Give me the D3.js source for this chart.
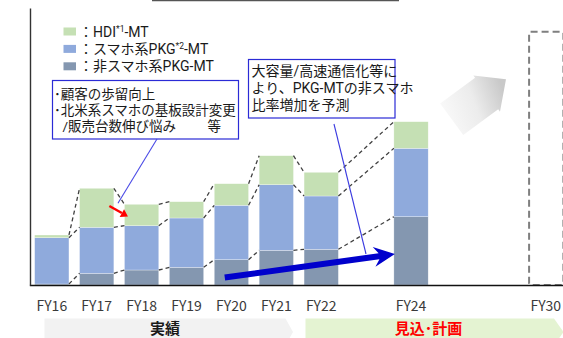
<!DOCTYPE html>
<html>
<head>
<meta charset="utf-8">
<script src="https://cdn.jsdelivr.net/npm/d3@7"></script>
<style>
  html, body { margin: 0; padding: 0; background: #fff; }
  svg { display: block; font-family: "Noto Sans CJK JP", "Noto Sans", sans-serif; }
  .note { font-family: Roboto, "Noto Sans CJK JP", sans-serif; }
</style>
</head>
<body>
<svg id="chart" width="563" height="338"></svg>
<script>
// ---- data -------------------------------------------------------------
const years = ["FY16", "FY17", "FY18", "FY19", "FY20", "FY21", "FY22", "FY24"];
const nonSmartphonePkg = [1.0, 11.7, 15.0, 17.7, 25.3, 34.7, 35.7, 68.3];
const smartphonePkg    = [46.3, 46.0, 44.3, 49.3, 54.4, 65.6, 53.3, 68.4];
const hdi              = [2.7, 39.0, 21.4, 16.3, 21.6, 29.0, 23.7, 26.6];
const targetYear = "FY30";
const targetTotal = 253.3;

// compressed fiscal-year axis: unnamed slots stand for skipped years
const axisSlots  = ["FY16", "FY17", "FY18", "FY19", "FY20", "FY21", "FY22", "gapA", "FY24", "gapB", "gapC", "FY30"];
const tickLabels = ["FY16", "FY17", "FY18", "FY19", "FY20", "FY21", "FY22", "FY24", "FY30"];

const seriesKeys   = ["nonSmartphonePkg", "smartphonePkg", "hdi"];
const legendLabels = [["：HDI", "*1", "-MT"], ["：スマホ系PKG", "*2", "-MT"], ["：非スマホ系PKG", "", "-MT"]];
const legendKeys   = ["hdi", "smartphonePkg", "nonSmartphonePkg"];
const colors = { hdi: "#c5e0b4", smartphonePkg: "#8faadc", nonSmartphonePkg: "#8497b0" };

const noteLeft  = ["･顧客の歩留向上", "･北米系スマホの基板設計変更", "/販売台数伸び悩み"];
const noteLeftTail = "等";
const noteRight = ["大容量/高速通信化等に", "より、PKG-MTの非スマホ", "比率増加を予測"];
const periodLabels = ["実績", "見込･計画"];

// ---- setup ------------------------------------------------------------
const svg = d3.select("#chart");
const baseY = 285, topY = 8;

const x = d3.scaleBand().domain(axisSlots).range([29.35, 568.2])
  .paddingInner(0.236).paddingOuter(0.118);
const y = d3.scaleLinear().domain([0, 277]).range([baseY, topY]);
const bw = x.bandwidth();

const rows = years.map((yr, i) => ({
  year: yr, nonSmartphonePkg: nonSmartphonePkg[i], smartphonePkg: smartphonePkg[i], hdi: hdi[i]
}));
const stacked = d3.stack().keys(seriesKeys)(rows);

// ---- bottom period banners ----------------------------------------------
const bannerTop = 318.5, bannerMid = 332;
function banner(x0, x1, tipX) {
  const bot = 2 * bannerMid - bannerTop;
  return `M${x0},${bannerTop}L${x1},${bannerTop}L${tipX},${bannerMid}L${x1},${bot}L${x0},${bot}Z`;
}
svg.append("path").attr("d", banner(44.5, 285.5, 293)).attr("fill", "#f2f2f2");
svg.append("path").attr("d", banner(305.5, 554, 563.5)).attr("fill", "#e4f3d2");
svg.append("text").attr("x", 165).attr("y", 334).attr("text-anchor", "middle")
  .attr("font-size", 15).attr("font-weight", "bold").attr("fill", "#1a1a1a").text(periodLabels[0]);
svg.append("text").attr("x", 428.5).attr("y", 334).attr("text-anchor", "middle")
  .attr("font-size", 15).attr("font-weight", "bold").attr("fill", "#ff0000").text(periodLabels[1]);

// ---- heading rule at the very top ---------------------------------------
svg.append("line").attr("x1", 152).attr("x2", 399).attr("y1", 0.6).attr("y2", 0.6)
  .attr("stroke", "#555").attr("stroke-width", 1.5);

// ---- stacked bars ---------------------------------------------------------
const layer = svg.append("g").selectAll("g").data(stacked).join("g")
  .attr("fill", d => colors[d.key]);
layer.selectAll("rect").data(d => d).join("rect")
  .attr("x", d => x(d.data.year))
  .attr("y", d => y(d[1]))
  .attr("width", bw)
  .attr("height", d => Math.max(0, y(d[0]) - y(d[1])))
  .attr("stroke", "#ffffff").attr("stroke-width", 0.5).attr("stroke-opacity", 0.6);

// dashed connectors between the tops of consecutive segments
const conn = svg.append("g").attr("stroke", "#404040").attr("stroke-width", 1.3)
  .attr("stroke-dasharray", "4,3").attr("fill", "none");
stacked.forEach(s => {
  for (let i = 0; i < s.length - 1; i++) {
    const a = s[i], b = s[i + 1];
    conn.append("line")
      .attr("x1", x(a.data.year) + bw).attr("y1", y(a[1]))
      .attr("x2", x(b.data.year)).attr("y2", y(b[1]));
  }
});

// FY30 target outline
svg.append("rect")
  .attr("x", x(targetYear) + 0.5).attr("y", y(targetTotal))
  .attr("width", bw).attr("height", y(0) - y(targetTotal))
  .attr("rx", 1.5).attr("fill", "none")
  .attr("stroke", "#7f7f7f").attr("stroke-width", 2).attr("stroke-dasharray", "7,4");

// ---- axes -----------------------------------------------------------------
const xAxis = svg.append("g").attr("transform", `translate(0,${baseY})`)
  .call(d3.axisBottom(x).tickValues(tickLabels).tickSize(0).tickSizeOuter(0).tickPadding(16));
xAxis.select(".domain").attr("stroke", "#111").attr("stroke-width", 1.4);
xAxis.selectAll("text").attr("font-size", 14).attr("fill", "#3a3a3a")
  .attr("font-family", "'Noto Sans CJK JP', sans-serif");

const yAxis = svg.append("g").attr("transform", "translate(30,0)")
  .call(d3.axisLeft(y).tickValues([]).tickSizeOuter(0));
yAxis.select(".domain").attr("stroke", "#333").attr("stroke-width", 1.4);

// ---- legend ---------------------------------------------------------------
const legendStep = 17.4, legendTop = 31.5;
legendKeys.forEach((k, i) => {
  svg.append("rect").attr("x", 63.5).attr("y", legendTop + i * legendStep - 4)
    .attr("width", 12.5).attr("height", 8).attr("fill", colors[k]);
});
const legendText = svg.append("text").attr("class", "note").attr("font-size", 14).attr("fill", "#1a1a1a");
legendLabels.forEach(([main, sup, tail], i) => {
  legendText.append("tspan").attr("x", 79).attr("y", legendTop + i * legendStep + 5).text(main);
  if (sup) legendText.append("tspan").attr("font-size", 8.5).attr("dy", -5).text(sup);
  legendText.append("tspan").attr("dy", sup ? 5 : 0).text(tail);
});

// ---- annotations ----------------------------------------------------------
// left note box
svg.append("rect").attr("x", 52.5).attr("y", 80.5).attr("width", 186).attr("height", 58.5)
  .attr("fill", "#fff").attr("stroke", "#2b2bd6").attr("stroke-width", 1.2);
const leftText = svg.append("text").attr("class", "note").attr("font-size", 13.5).attr("fill", "#1a1a1a");
noteLeft.forEach((ln, i) => {
  leftText.append("tspan").attr("x", i === 2 ? 62.5 : 54).attr("y", 99.3 + i * 16).text(ln);
});
leftText.append("tspan").attr("x", 207.5).attr("y", 131.3).text(noteLeftTail);

// leader from left note to FY18
svg.append("line").attr("x1", 157).attr("y1", 139)
  .attr("x2", x("FY18") - 6.5).attr("y2", y(hdi[2] + smartphonePkg[2] + nonSmartphonePkg[2]) - 1)
  .attr("stroke", "#4a4ae6").attr("stroke-width", 1.1);

// red decline marker pointing at FY18
(function () {
  const x0 = x("FY17") + bw - 4.5, y0 = 206;
  const x1 = x("FY18") + 3.5, y1 = 216.5;
  const ang = Math.atan2(y1 - y0, x1 - x0);
  const hl = 7, hw = 4.5;
  const bx = x1 - hl * Math.cos(ang), by = y1 - hl * Math.sin(ang);
  svg.append("line").attr("x1", x0).attr("y1", y0).attr("x2", bx).attr("y2", by)
    .attr("stroke", "#ff0000").attr("stroke-width", 2.4);
  svg.append("path").attr("fill", "#ff0000").attr("d",
    `M${x1},${y1}L${bx - hw * Math.sin(ang)},${by + hw * Math.cos(ang)}L${bx + hw * Math.sin(ang)},${by - hw * Math.cos(ang)}Z`);
})();

// right note box
svg.append("rect").attr("x", 248.5).attr("y", 59.5).attr("width", 146.5).attr("height", 58.5)
  .attr("fill", "#fff").attr("stroke", "#2b2bd6").attr("stroke-width", 1.2);
const rightText = svg.append("text").attr("class", "note").attr("font-size", 14).attr("fill", "#1a1a1a");
noteRight.forEach((ln, i) => {
  rightText.append("tspan").attr("x", 251.5).attr("y", 76 + i * 17.2).text(ln);
});

// leader from right note towards the rising non-smartphone share
svg.append("line").attr("x1", 334).attr("y1", 124).attr("x2", 366).attr("y2", 254)
  .attr("stroke", "#3a3ae0").attr("stroke-width", 1.1);

// thick blue trend arrow FY20 -> FY24 (non-smartphone PKG)
(function () {
  const sx = x("FY20") + 10.5, sy = y(7.5);
  const tx = x("FY24") + 1, ty = y(31);
  const len = Math.hypot(tx - sx, ty - sy);
  const ux = (tx - sx) / len, uy = (ty - sy) / len;
  const nx = -uy, ny = ux;
  const sh = 3, hh = 10, hl = 21, notch = 5;
  const hx = tx - ux * hl, hy = ty - uy * hl;
  const jx = hx + ux * notch, jy = hy + uy * notch;
  const pts = [
    [sx - nx * sh, sy - ny * sh], [jx - nx * sh, jy - ny * sh], [hx - nx * hh, hy - ny * hh],
    [tx, ty], [hx + nx * hh, hy + ny * hh], [jx + nx * sh, jy + ny * sh], [sx + nx * sh, sy + ny * sh]
  ];
  svg.append("path").attr("fill", "#0000cc").attr("d", "M" + pts.map(p => p.join(",")).join("L") + "Z");
})();

// grey growth arrow towards FY30
(function () {
  const defs = svg.append("defs");
  const g = defs.append("linearGradient").attr("id", "growFill")
    .attr("gradientUnits", "userSpaceOnUse")
    .attr("x1", 440).attr("y1", 120).attr("x2", 505).attr("y2", 95);
  g.append("stop").attr("offset", 0).attr("stop-color", "#fbfbfb");
  g.append("stop").attr("offset", 0.55).attr("stop-color", "#ececec");
  g.append("stop").attr("offset", 1).attr("stop-color", "#c9c9c9");
  const cx = 451.7, cy = 119.2, tx = 506, ty = 79.3;
  const len = Math.hypot(tx - cx, ty - cy);
  const ux = (tx - cx) / len, uy = (ty - cy) / len;
  const nx = -uy, ny = ux;
  const sw = 19.5, hw = 22.5, shaft = len - 24;
  const mx = cx + ux * shaft, my = cy + uy * shaft;
  const pts = [
    [cx + nx * sw, cy + ny * sw], [mx + nx * sw, my + ny * sw], [mx + nx * hw, my + ny * hw],
    [tx, ty], [mx - nx * hw, my - ny * hw], [mx - nx * sw, my - ny * sw], [cx - nx * sw, cy - ny * sw]
  ];
  svg.append("path").attr("fill", "url(#growFill)").attr("d", "M" + pts.map(p => p.join(",")).join("L") + "Z");
})();
</script>
</body>
</html>
